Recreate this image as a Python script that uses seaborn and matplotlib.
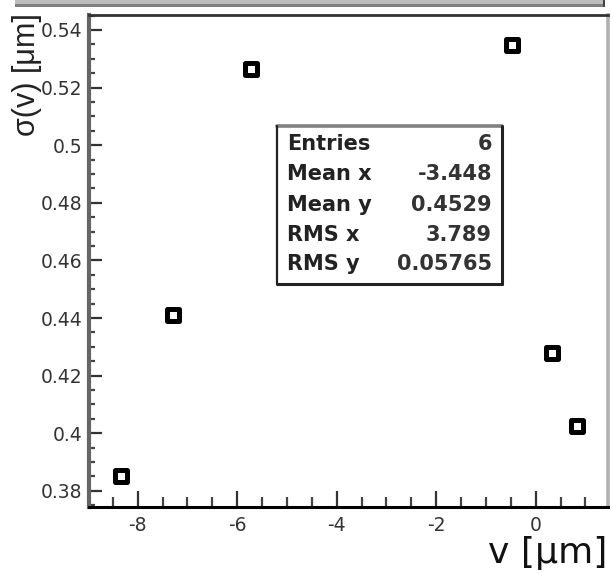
import matplotlib
matplotlib.use("Agg")
import matplotlib.pyplot as plt
from matplotlib.patches import Rectangle
from matplotlib.lines import Line2D
from matplotlib.ticker import MultipleLocator, FuncFormatter
import seaborn as sns
import pandas as pd

# ---- data ----
v_um = [-8.33, -7.29, -5.72, -0.47, 0.33, 0.84]
sigma_v = [0.3853, 0.4410, 0.5265, 0.5348, 0.4280, 0.4024]
stat_names = ["Entries", "Mean x", "Mean y", "RMS x", "RMS y"]
stat_values = ["6", "-3.448", "0.4529", "3.789", "0.05765"]
x_label = "v [μm]"
y_label = "σ(v) [μm]"

sns.set_style("ticks")
plt.rcParams["font.family"] = ["DejaVu Sans"]
plt.rcParams["axes.unicode_minus"] = False

W, H = 611, 574
fig = plt.figure(figsize=(W / 100, H / 100), dpi=100)

def fx(px):
    return px / W

def fy(py):
    return 1 - py / H

ax = fig.add_axes([fx(89), fy(507.3), fx(608.3) - fx(89), fy(15) - fy(507.3)])

df = pd.DataFrame({"v": v_um, "s": sigma_v})
sns.scatterplot(data=df, x="v", y="s", ax=ax, marker="s", s=85,
                facecolor="white", edgecolor="black", linewidth=3.6, zorder=5)

ax.set_xlim(-8.98, 1.46)
ax.set_ylim(0.3743, 0.5452)
ax.set_xlabel("")
ax.set_ylabel("")

ax.xaxis.set_major_locator(MultipleLocator(2))
ax.xaxis.set_minor_locator(MultipleLocator(0.5))
ax.yaxis.set_major_locator(MultipleLocator(0.02))
ax.yaxis.set_minor_locator(MultipleLocator(0.005))
ax.yaxis.set_major_formatter(FuncFormatter(lambda v, p: "%g" % round(v, 4)))
ax.xaxis.set_major_formatter(FuncFormatter(lambda v, p: "%g" % round(v, 4)))

ax.tick_params(axis="x", which="major", direction="in", length=11.5, width=1.6,
               color="#333333", labelsize=13.5, labelcolor="#333333", pad=6,
               top=False, bottom=True)
ax.tick_params(axis="x", which="minor", direction="in", length=7, width=1.6,
               color="#444444", top=False, bottom=True)
ax.tick_params(axis="y", which="major", direction="in", length=9, width=1.6,
               color="#333333", labelsize=13.5, labelcolor="#333333", pad=5,
               left=True, right=False)
ax.tick_params(axis="y", which="minor", direction="in", length=4.5, width=1.6,
               color="#444444", left=True, right=False)

for side, col, lw in [("left", "#666666", 3.0), ("bottom", "#000000", 2.2),
                      ("top", "#333333", 2.0), ("right", "#b0b0b0", 2.6)]:
    ax.spines[side].set_visible(True)
    ax.spines[side].set_color(col)
    ax.spines[side].set_linewidth(lw)

# ---- title box remnant at top ----
fig.patches.append(Rectangle((fx(15), fy(4)), fx(604) - fx(15), fy(0) - fy(4),
                             transform=fig.transFigure, facecolor="#bdbdbd",
                             edgecolor="none"))
fig.patches.append(Rectangle((fx(15), fy(7.3)), fx(604) - fx(15), fy(4) - fy(7.3),
                             transform=fig.transFigure, facecolor="#808080",
                             edgecolor="none"))
fig.patches.append(Rectangle((fx(603), fy(7.3)), fx(2), fy(0) - fy(7.3),
                             transform=fig.transFigure, facecolor="#444444",
                             edgecolor="none"))

# ---- stats box ----
bx0, bx1, by0, by1 = 276.5, 502.5, 125.5, 284
fig.patches.append(Rectangle((fx(bx0), fy(by1)), fx(bx1) - fx(bx0), fy(by0) - fy(by1),
                             transform=fig.transFigure, facecolor="white",
                             edgecolor="none", zorder=10))
fig.lines.append(Line2D([fx(bx0), fx(bx1)], [fy(by0), fy(by0)], transform=fig.transFigure,
                        color="#808080", lw=2.6, zorder=11))
fig.lines.append(Line2D([fx(bx0), fx(bx0)], [fy(by0), fy(by1)], transform=fig.transFigure,
                        color="#222222", lw=1.6, zorder=11))
fig.lines.append(Line2D([fx(bx1), fx(bx1)], [fy(by0), fy(by1)], transform=fig.transFigure,
                        color="#222222", lw=2.2, zorder=11))
fig.lines.append(Line2D([fx(bx0), fx(bx1)], [fy(by1), fy(by1)], transform=fig.transFigure,
                        color="#222222", lw=2.2, zorder=11))

row_y = [144, 174, 205, 235, 264]
for name, val, ry in zip(stat_names, stat_values, row_y):
    fig.text(fx(287), fy(ry), name, ha="left", va="center", fontsize=15,
             fontweight="bold", color="#222222", zorder=12)
    fig.text(fx(492), fy(ry), val, ha="right", va="center", fontsize=15,
             fontweight="bold", color="#333333", zorder=12)

# ---- axis titles ----
fig.text(fx(607), fy(563), x_label, ha="right", va="baseline", fontsize=26,
         color="#111111")
fig.text(fx(27), fy(13), y_label, ha="center", va="top", rotation=90,
         fontsize=22, family=["Liberation Sans", "DejaVu Sans"], color="#222222")

fig.savefig("out.png", dpi=100)
